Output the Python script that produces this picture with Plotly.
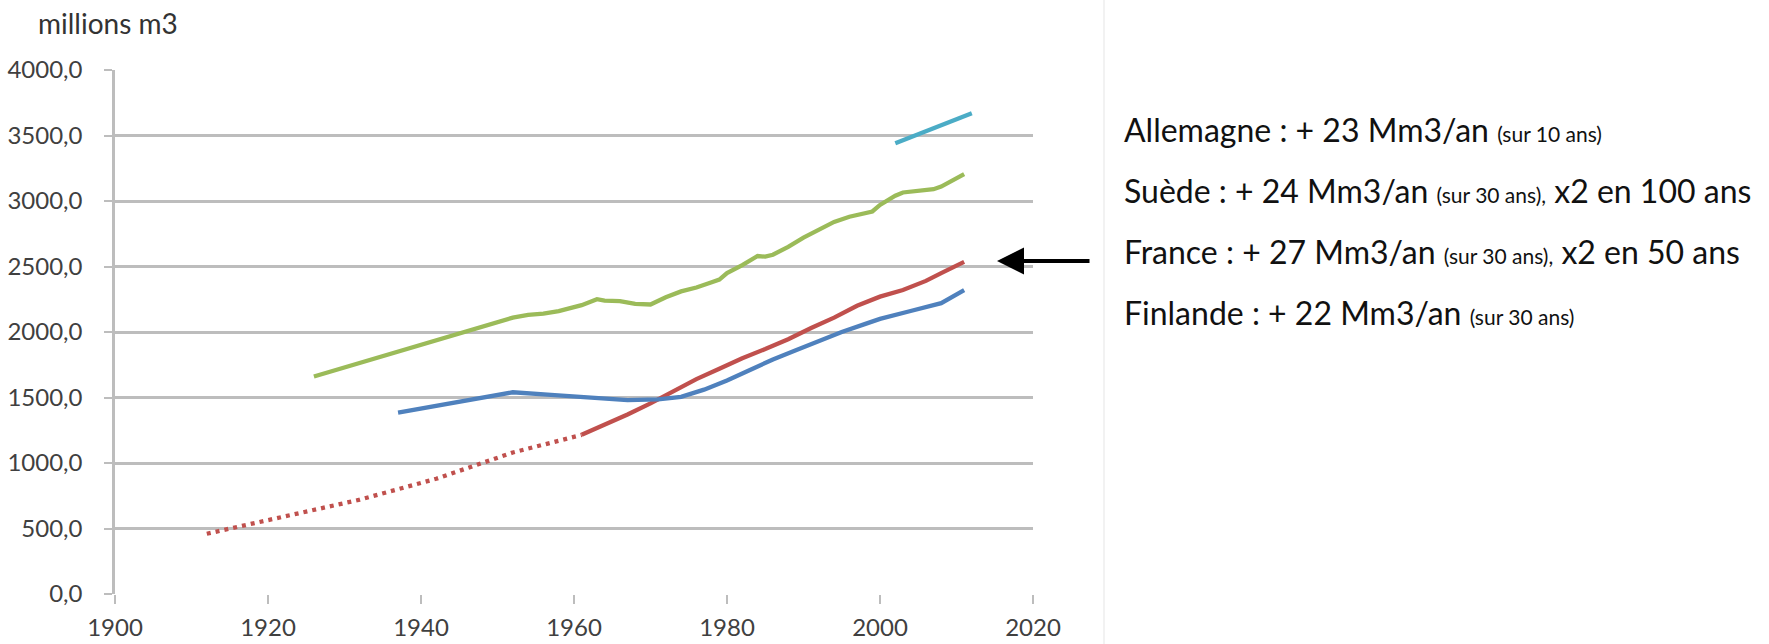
import plotly.graph_objects as go

# ---------------- data ----------------
allemagne_years = [2002, 2007, 2012]
allemagne_values = [3440, 3555, 3670]

suede_years = [1926, 1928, 1930, 1932, 1934, 1936, 1938, 1940, 1942, 1944, 1946, 1948,
               1950, 1952, 1954, 1956, 1958, 1960, 1961, 1963, 1964, 1966, 1968, 1970,
               1972, 1974, 1976, 1978, 1979, 1980, 1982, 1984, 1985, 1986, 1988, 1990,
               1992, 1994, 1996, 1998, 1999, 2000, 2002, 2003, 2005, 2007, 2008, 2009,
               2010, 2011]
suede_values = [1660, 1695, 1725, 1765, 1800, 1835, 1870, 1905, 1940, 1975, 2010, 2040,
                2080, 2110, 2130, 2140, 2160, 2190, 2205, 2250, 2240, 2235, 2215, 2210,
                2265, 2310, 2340, 2380, 2400, 2450, 2510, 2580, 2575, 2590, 2650, 2720,
                2780, 2840, 2880, 2910, 2920, 2970, 3040, 3065, 3075, 3090, 3110, 3140,
                3175, 3205]

france_est_years = [1912, 1922, 1932, 1942, 1952, 1961]
france_est_values = [460, 590, 720, 880, 1080, 1215]

france_years = [1961, 1964, 1967, 1970, 1973, 1976, 1979, 1982, 1985, 1988, 1991, 1994,
                1997, 2000, 2003, 2006, 2008, 2010, 2011]
france_values = [1215, 1290, 1370, 1455, 1545, 1640, 1720, 1800, 1870, 1945, 2030, 2110,
                 2200, 2270, 2320, 2390, 2450, 2510, 2535]

finlande_years = [1937, 1952, 1957, 1962, 1967, 1971, 1974, 1977, 1980, 1983, 1986, 1989,
                  1992, 1995, 1998, 2000, 2004, 2008, 2011]
finlande_values = [1385, 1540, 1520, 1500, 1480, 1485, 1505, 1560, 1630, 1710, 1790, 1860,
                   1930, 2000, 2060, 2100, 2160, 2220, 2320]

x_ticks = [1900, 1920, 1940, 1960, 1980, 2000, 2020]
y_ticks = [0, 500, 1000, 1500, 2000, 2500, 3000, 3500, 4000]
y_ticklabels = ["0,0", "500,0", "1000,0", "1500,0", "2000,0", "2500,0", "3000,0",
                "3500,0", "4000,0"]

unit_label = "millions m3"
notes = [
    ("Allemagne : + 23 Mm3/an ", "(sur 10 ans)", ""),
    ("Suède : + 24 Mm3/an ", "(sur 30 ans),", " x2 en 100 ans"),
    ("France : + 27 Mm3/an ", "(sur 30 ans),", " x2 en 50 ans"),
    ("Finlande : + 22 Mm3/an ", "(sur 30 ans)", ""),
]

# ---------------- figure ----------------
W, H = 1769, 644
L, R, T, B = 115, 1033, 70, 594   # plot area in pixels


def px_x(p):
    return (p - L) / (R - L)


def px_y(p):
    return (B - p) / (B - T)


BLUE = "#4F81BD"
RED = "#C0504D"
GREEN = "#9BBB59"
AQUA = "#4BACC6"
LW = 4.3

fig = go.Figure()
fig.add_trace(go.Scatter(x=allemagne_years, y=allemagne_values, mode="lines",
                         line=dict(color=AQUA, width=LW), name="Allemagne"))
fig.add_trace(go.Scatter(x=suede_years, y=suede_values, mode="lines",
                         line=dict(color=GREEN, width=LW), name="Suède"))
fig.add_trace(go.Scatter(x=france_est_years, y=france_est_values, mode="lines",
                         line=dict(color=RED, width=LW, dash="4px,5px"), name="France (est.)"))
fig.add_trace(go.Scatter(x=france_years, y=france_values, mode="lines",
                         line=dict(color=RED, width=LW), name="France"))
fig.add_trace(go.Scatter(x=finlande_years, y=finlande_values, mode="lines",
                         line=dict(color=BLUE, width=LW), name="Finlande"))

TICKFONT = dict(family="Lato, 'Open Sans', sans-serif", size=24, color="#404040")
GRID = "#BDBDBD"

fig.update_xaxes(range=[1900, 2020], tickvals=x_ticks, showgrid=False, zeroline=False,
                 showline=False, ticks="outside", ticklen=9, tickwidth=2, tickcolor=GRID,
                 tickfont=TICKFONT, ticklabelstandoff=3, fixedrange=True, automargin=False)
fig.update_yaxes(range=[0, 4000], tickvals=y_ticks, ticktext=y_ticklabels, showgrid=True,
                 gridcolor=GRID, gridwidth=2.5, zeroline=False, showline=True, linecolor=GRID,
                 linewidth=2.5, ticks="outside", ticklen=8, tickwidth=2, tickcolor=GRID,
                 tickfont=TICKFONT, ticklabelstandoff=17, fixedrange=True, automargin=False)

annotations = []
annotations.append(dict(text=unit_label, xref="paper", yref="paper", x=px_x(36), y=px_y(23),
                        xanchor="left", yanchor="middle", showarrow=False,
                        font=dict(family="Lato, sans-serif", size=28, color="#333333")))

note_y = [129, 190, 251, 312]
for (big, small, tail), yy in zip(notes, note_y):
    txt = (big + "<span style='font-size:21px'>" + small + "</span>" + tail)
    annotations.append(dict(text=txt, xref="paper", yref="paper", x=px_x(1122), y=px_y(yy),
                            xanchor="left", yanchor="middle", showarrow=False,
                            font=dict(family="Lato, sans-serif", size=32, color="#111111")))

# arrow pointing at the France curve end
annotations.append(dict(text="", xref="paper", yref="paper", x=px_x(997), y=px_y(261),
                        ax=94, ay=0, showarrow=True, arrowhead=2, arrowsize=1.35,
                        arrowwidth=4, arrowcolor="#000000"))
fig.update_layout(annotations=annotations)

fig.add_shape(type="line", xref="paper", yref="paper", x0=px_x(1104), x1=px_x(1104),
              y0=px_y(0), y1=px_y(H), line=dict(color="#F2F2F2", width=2))

fig.update_layout(width=W, height=H, margin=dict(l=L, r=W - R, t=T, b=H - B),
                  paper_bgcolor="white", plot_bgcolor="white", showlegend=False)

# remove the default page margin so the figure fills the window exactly
fig.write_html("out.html", config={"displayModeBar": False},
               post_script="document.body.style.margin='0';"
                           "document.body.style.overflow='hidden';")
